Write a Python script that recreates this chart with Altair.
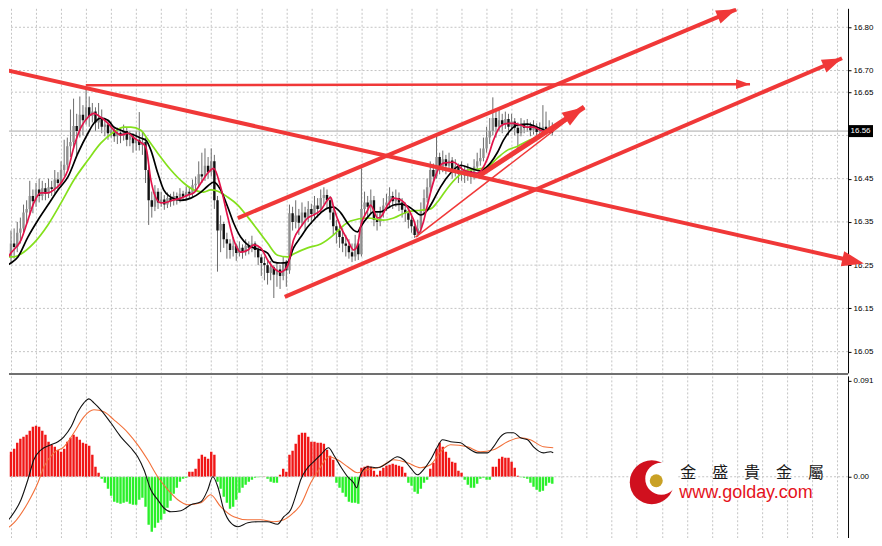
import altair as alt
import pandas as pd

# ---------------- price bars (one per bar index) ----------------
first_open = 16.255
close = [16.262,16.285,16.270,16.300,16.292,16.325,16.335,16.372,16.380,16.410,
         16.398,16.425,16.410,16.428,16.415,16.430,16.426,16.448,16.440,16.470,
         16.482,16.525,16.535,16.572,16.560,16.598,16.585,16.615,16.595,16.605,
         16.580,16.590,16.570,16.575,16.555,16.562,16.548,16.556,16.550,16.560,
         16.540,16.548,16.532,16.540,16.528,16.535,16.470,16.400,16.385,16.420,
         16.395,16.402,16.390,16.405,16.398,16.410,16.400,16.415,16.408,16.420,
         16.415,16.435,16.438,16.460,16.455,16.480,16.465,16.490,16.400,16.330,
         16.345,16.310,16.300,16.285,16.295,16.278,16.290,16.280,16.295,16.290,
         16.300,16.285,16.268,16.255,16.250,16.232,16.245,16.228,16.240,16.225,
         16.255,16.238,16.370,16.350,16.365,16.348,16.372,16.360,16.380,16.368,
         16.388,16.380,16.405,16.412,16.400,16.372,16.340,16.330,16.315,16.300,
         16.295,16.280,16.270,16.300,16.275,16.380,16.395,16.385,16.400,16.355,
         16.350,16.370,16.388,16.395,16.410,16.398,16.405,16.395,16.378,16.370,
         16.355,16.340,16.320,16.335,16.375,16.405,16.430,16.470,16.455,16.500,
         16.478,16.495,16.480,16.492,16.470,16.478,16.462,16.470,16.458,16.468,
         16.455,16.478,16.490,16.498,16.520,16.545,16.560,16.590,16.570,16.585,
         16.575,16.588,16.570,16.582,16.568,16.555,16.575,16.568,16.572,16.562,
         16.570,16.558,16.562,16.570,16.565,16.568,16.560]
high = [16.285,16.300,16.320,16.330,16.335,16.350,16.360,16.390,16.400,16.445,
        16.425,16.440,16.450,16.445,16.440,16.450,16.445,16.470,16.465,16.490,
        16.540,16.545,16.610,16.635,16.600,16.640,16.620,16.659,16.640,16.625,
        16.615,16.625,16.610,16.590,16.585,16.580,16.570,16.568,16.565,16.575,
        16.568,16.560,16.555,16.560,16.604,16.560,16.545,16.480,16.420,16.435,
        16.428,16.420,16.412,16.418,16.415,16.420,16.418,16.428,16.422,16.432,
        16.430,16.448,16.455,16.490,16.510,16.520,16.500,16.520,16.505,16.410,
        16.365,16.350,16.325,16.310,16.315,16.300,16.305,16.298,16.310,16.305,
        16.318,16.305,16.292,16.275,16.270,16.262,16.260,16.250,16.255,16.250,
        16.270,16.262,16.390,16.385,16.400,16.380,16.395,16.385,16.398,16.392,
        16.410,16.405,16.425,16.430,16.425,16.410,16.380,16.355,16.345,16.335,
        16.320,16.310,16.300,16.320,16.310,16.474,16.420,16.410,16.425,16.410,
        16.370,16.385,16.405,16.415,16.430,16.420,16.425,16.418,16.405,16.395,
        16.380,16.365,16.350,16.355,16.395,16.425,16.450,16.490,16.485,16.551,
        16.510,16.515,16.505,16.510,16.500,16.495,16.485,16.490,16.480,16.485,
        16.475,16.495,16.510,16.520,16.545,16.570,16.590,16.638,16.605,16.610,
        16.600,16.605,16.600,16.600,16.590,16.580,16.590,16.585,16.588,16.580,
        16.585,16.578,16.580,16.620,16.605,16.585,16.580]
low = [16.175,16.190,16.240,16.255,16.265,16.280,16.300,16.320,16.345,16.365,
       16.370,16.385,16.395,16.400,16.400,16.405,16.410,16.415,16.425,16.430,
       16.455,16.470,16.500,16.520,16.505,16.545,16.550,16.575,16.570,16.580,
       16.560,16.565,16.555,16.548,16.540,16.545,16.535,16.530,16.532,16.538,
       16.525,16.525,16.510,16.515,16.515,16.505,16.440,16.343,16.360,16.375,
       16.380,16.385,16.378,16.382,16.385,16.388,16.390,16.395,16.398,16.400,
       16.405,16.408,16.420,16.430,16.440,16.445,16.450,16.455,16.380,16.235,
       16.280,16.290,16.265,16.265,16.270,16.260,16.270,16.265,16.272,16.275,
       16.280,16.268,16.250,16.225,16.215,16.205,16.215,16.174,16.200,16.195,
       16.215,16.200,16.230,16.330,16.335,16.320,16.340,16.330,16.350,16.345,
       16.355,16.360,16.370,16.390,16.380,16.355,16.320,16.300,16.290,16.280,
       16.270,16.265,16.257,16.260,16.262,16.270,16.365,16.360,16.370,16.340,
       16.330,16.340,16.360,16.375,16.385,16.380,16.385,16.375,16.360,16.350,
       16.335,16.325,16.313,16.315,16.325,16.365,16.395,16.420,16.440,16.450,
       16.460,16.465,16.460,16.468,16.450,16.455,16.440,16.445,16.440,16.445,
       16.438,16.448,16.470,16.480,16.490,16.510,16.530,16.550,16.545,16.560,
       16.555,16.565,16.550,16.560,16.550,16.520,16.548,16.555,16.558,16.548,
       16.552,16.545,16.550,16.555,16.552,16.555,16.550]

# ---------------- moving averages ----------------
red_bar = [0,3.0,6.2,8.4,10.3,12.6,14.8,16.7,19.0,21.2,23.1,25.4,27.6,29.5,31.7,34.0,35.9,38.1,40.4,42.3,
           44.5,46.1,47.7,48.7,50.9,53.1,55.0,57.3,59.5,61.4,63.7,65.9,67.8,70.0,72.3,74.2,76.4,78.7,80.6,82.8,
           85.0,87.0,89.2,91.4,93.3,95.6,97.8,99.7,102.0,104.2,105.2,106.1,108.4,110.6,112.5,113.8,114.7,117.0,117.9,120.2,
           121.1,123.4,125.3,127.5,129.7,131.7,133.3,134.8,136.1,138.0,141.2,144.4,147.6,149.9,152.1,155.3,157.2,159.4,161.7,163.6,
           165.8,168.1,170.0,172.2,174.4,176.3]
red_val = [16.246,16.278,16.308,16.354,16.394,16.417,16.417,16.424,16.440,16.470,16.523,16.569,16.592,16.601,16.592,16.578,16.562,16.551,16.555,16.544,
           16.534,16.523,16.447,16.417,16.394,16.396,16.401,16.405,16.412,16.417,16.440,16.463,16.474,16.431,16.361,16.308,16.280,16.285,16.297,16.290,
           16.262,16.243,16.234,16.248,16.308,16.338,16.359,16.366,16.377,16.401,16.407,16.384,16.338,16.308,16.285,16.297,16.338,16.377,16.389,16.359,
           16.361,16.389,16.405,16.401,16.384,16.354,16.324,16.350,16.389,16.442,16.486,16.488,16.470,16.465,16.463,16.497,16.539,16.571,16.578,16.578,
           16.574,16.569,16.569,16.562,16.557,16.564]
black_bar = [0,3.0,5.2,8.4,11.6,14.8,18.0,21.2,24.4,27.6,29.5,31.7,34.0,35.9,38.1,40.4,42.3,44.5,46.1,47.7,
             49.9,51.8,54.1,57.3,60.5,63.7,65.9,67.8,70.0,72.3,74.2,76.4,78.7,80.6,82.8,85.0,87.0,89.2,91.4,93.3,
             95.6,97.8,99.7,102.0,104.2,106.1,108.4,110.6,112.5,113.8,114.7,117.0,118.9,121.1,123.4,125.3,127.5,129.7,131.7,133.9,
             136.1,138.0,140.3,143.5,146.7,149.9,153.0,156.2,158.5,160.4,162.6,164.9,168.1,171.2,174.4,176.3]
black_val = [16.244,16.255,16.269,16.315,16.354,16.389,16.424,16.454,16.509,16.555,16.578,16.590,16.585,16.569,16.562,16.555,16.551,16.544,16.539,16.516,
             16.463,16.424,16.407,16.400,16.405,16.419,16.433,16.442,16.424,16.384,16.347,16.315,16.297,16.290,16.285,16.278,16.257,16.255,16.257,16.290,
             16.315,16.338,16.354,16.371,16.382,16.384,16.371,16.347,16.331,16.327,16.338,16.361,16.373,16.373,16.382,16.389,16.391,16.387,16.377,16.366,
             16.377,16.400,16.431,16.463,16.481,16.474,16.468,16.486,16.511,16.539,16.562,16.574,16.576,16.569,16.560,16.558]
green_bar = [0,4.0,6.2,10.3,14.8,19.0,23.1,27.6,31.7,35.9,39.1,41.3,44.5,46.7,49.9,54.1,58.2,61.4,64.6,66.8,
             69.1,72.3,75.5,78.7,81.9,85.0,88.2,91.4,93.3,97.8,102.0,106.1,108.4,111.5,117.0,122.1,125.3,129.7,133.9,137.1,
             139.3,142.5,145.7,148.9,152.1,155.3,158.5,161.7,164.9,168.1,171.2,174.4,176.3]
green_val = [16.269,16.269,16.276,16.301,16.343,16.394,16.447,16.493,16.532,16.558,16.569,16.569,16.562,16.541,16.509,16.470,16.440,16.424,16.419,16.424,
             16.421,16.407,16.389,16.361,16.331,16.301,16.273,16.269,16.276,16.290,16.299,16.320,16.336,16.352,16.359,16.354,16.359,16.373,16.377,16.380,
             16.396,16.428,16.454,16.470,16.472,16.477,16.498,16.516,16.525,16.537,16.546,16.558,16.567]

# ---------------- MACD panel ----------------
hist = [0.0114,0.0180,0.0209,0.0237,0.0265,0.0322,0.0360,0.0379,0.0398,0.0436,
        0.0474,0.0483,0.0474,0.0436,0.0398,0.0332,0.0303,0.0284,0.0256,0.0237,
        0.0265,0.0332,0.0370,0.0398,0.0379,0.0351,0.0322,0.0313,0.0294,0.0209,
        0.0095,0.0038,-0.0019,-0.0057,-0.0114,-0.0180,-0.0237,-0.0246,-0.0256,-0.0246,
        -0.0237,-0.0256,-0.0265,-0.0265,-0.0218,-0.0199,-0.0284,-0.0455,-0.0521,-0.0483,
        -0.0436,-0.0408,-0.0351,-0.0294,-0.0228,-0.0161,-0.0104,-0.0047,-0.0019,-0.0009,
        0.0047,0.0047,0.0076,0.0171,0.0209,0.0190,0.0171,0.0237,0.0209,-0.0047,
        -0.0114,-0.0190,-0.0246,-0.0303,-0.0284,-0.0218,-0.0152,-0.0104,-0.0076,-0.0047,
        -0.0028,-0.0009,-0.0005,-0.0003,0.0003,-0.0019,-0.0047,-0.0057,-0.0057,0.0019,
        0.0076,0.0047,0.0209,0.0246,0.0313,0.0398,0.0417,0.0417,0.0379,0.0332,
        0.0332,0.0322,0.0322,0.0313,0.0256,0.0199,0.0161,-0.0057,-0.0104,-0.0152,
        -0.0190,-0.0237,-0.0246,-0.0246,-0.0256,0.0085,0.0095,0.0104,0.0095,0.0057,
        0.0019,0.0057,0.0085,0.0104,0.0114,0.0123,0.0114,0.0104,0.0095,0.0038,
        -0.0057,-0.0085,-0.0142,-0.0161,-0.0114,-0.0057,-0.0028,0.0076,0.0133,0.0265,
        0.0322,0.0284,0.0237,0.0180,0.0142,0.0133,0.0057,0.0038,-0.0028,-0.0076,
        -0.0104,-0.0104,-0.0066,-0.0019,-0.0009,-0.0028,-0.0028,0.0095,0.0095,0.0171,
        0.0190,0.0180,0.0180,0.0142,0.0085,0.0009,-0.0005,-0.0009,-0.0019,-0.0057,
        -0.0095,-0.0123,-0.0142,-0.0133,-0.0085,-0.0057,-0.0066]
dif_bar = [0,3.0,6.2,8.4,10.3,12.6,15.8,18.0,19.9,22.2,24.4,26.3,27.9,29.5,31.7,34.9,38.1,41.3,43.5,45.5,
           47.7,49.9,51.8,54.1,57.3,60.5,63.7,65.9,67.5,69.1,71.0,73.2,75.5,78.7,81.9,85.0,88.2,90.2,92.4,94.6,
           95.6,97.8,99.7,102.0,104.5,106.1,108.4,110.6,112.5,113.5,114.7,117.0,120.2,123.4,126.5,128.5,130.7,132.9,134.8,137.1,
           139.3,140.9,143.5,146.7,148.9,152.1,155.3,157.2,159.4,161.7,163.6,165.8,168.1,170.0,173.2,175.4,176.3]
dif_val = [-0.0474,-0.0379,-0.0218,-0.0028,0.0161,0.0256,0.0303,0.0332,0.0379,0.0474,
           0.0616,0.0701,0.0739,0.0701,0.0635,0.0512,0.0379,0.0275,0.0190,0.0066,
           -0.0123,-0.0218,-0.0294,-0.0332,-0.0322,-0.0265,-0.0237,-0.0123,0.0,-0.0095,
           -0.0313,-0.0436,-0.0474,-0.0436,-0.0427,-0.0427,-0.0450,-0.0379,-0.0313,-0.0123,
           -0.0028,0.0085,0.0142,0.0209,0.0275,0.0209,0.0095,0.0,-0.0057,-0.0104,
           0.0019,0.0095,0.0085,0.0133,0.0190,0.0161,0.0085,0.0019,0.0066,0.0161,
           0.0284,0.0351,0.0332,0.0322,0.0275,0.0227,0.0227,0.0284,0.0379,0.0417,
           0.0417,0.0370,0.0351,0.0284,0.0227,0.0237,0.0227]
sig_bar = [0,4.0,8.4,11.6,13.5,16.7,19.9,23.1,26.3,29.5,32.7,35.9,40.4,43.5,46.7,49.9,53.1,56.3,59.5,63.7,
           66.8,70.0,74.2,78.7,82.8,87.0,90.2,93.3,95.6,98.8,102.0,104.5,107.4,110.6,113.8,117.0,121.1,125.3,129.7,133.9,
           137.1,140.3,143.5,148.9,153.0,157.2,161.7,165.8,169.0,173.2,176.3]
sig_val = [-0.0521,-0.0436,-0.0246,-0.0057,0.0095,0.0227,0.0284,0.0417,0.0569,0.0635,
           0.0616,0.0540,0.0417,0.0303,0.0161,0.0,-0.0123,-0.0218,-0.0265,-0.0246,
           -0.0171,-0.0284,-0.0379,-0.0408,-0.0408,-0.0427,-0.0408,-0.0341,-0.0265,-0.0057,
           0.0095,0.0190,0.0161,0.0095,0.0038,0.0066,0.0095,0.0161,0.0133,0.0085,
           0.0114,0.0237,0.0303,0.0284,0.0237,0.0256,0.0332,0.0370,0.0351,0.0284,0.0275]

# ---------------- hand-drawn trend lines (bar index, price) ----------------
arrow_x0 = [0.0, 26.9, 75.5, 90.5, 152.4, 132.3]
arrow_y0 = [16.7035, 16.6661, 16.3589, 16.1765, 16.4559, 16.3150]
arrow_x1 = [275.6, 239.2, 234.8, 268.6, 186.2, 186.2]
arrow_y1 = [16.2539, 16.6684, 16.8416, 16.7284, 16.6153, 16.6153]
arrow_w = [4, 2.5, 4, 4, 5, 1.5]
head_idx = [0, 1, 2, 3, 4]
head_angle = [12.7, 359.9, 337.3, 336.7, 326.9]
head_size = [484, 196, 400, 400, 484]

price_ticks = [16.80, 16.70, 16.65, 16.45, 16.35, 16.25, 16.15, 16.05]   # 16.55 lies under the bid box
price_grid = [16.80, 16.70, 16.65, 16.55, 16.45, 16.35, 16.25, 16.15, 16.05]
macd_ticks = [0.091, 0.0]
bid = 16.56
grid_bars = list(range(3, 272, 8))

brand_cn = "金　盛　貴　金　屬"
brand_url = "www.golday.com"

# ---------------- layout ----------------
W, H_TOP, H_BOT = 840, 365, 162
X_DOMAIN = [2.364, 270.52]
P_DOMAIN = [16.0009, 16.8439]
M_DOMAIN = [-0.0578, 0.0957]
ARROW = "#f03838"
LBL_FONT = "Liberation Sans"
GRID = "#c4c4c4"

n = len(close)
candles = pd.DataFrame({
    "bar": list(range(n)),
    "open": [first_open] + close[:-1],
    "close": close, "high": high, "low": low,
})
xs = alt.Scale(domain=X_DOMAIN, nice=False, zero=False)
ys = alt.Scale(domain=P_DOMAIN, nice=False, zero=False)
ms = alt.Scale(domain=M_DOMAIN, nice=False, zero=False)

x_axis = alt.Axis(values=grid_bars, grid=True, gridDash=[2, 2], gridColor=GRID,
                  gridWidth=1, labels=False, ticks=False, domain=False, title=None)
y_axis = alt.Axis(orient="right", values=price_ticks, format=".2f", grid=False, title=None, tickSize=3,
                  tickColor="black", domainColor="black", labelColor="black",
                  labelFont=LBL_FONT, labelFontSize=8, labelPadding=2)
m_axis = alt.Axis(orient="right", values=macd_ticks, grid=False, title=None, tickSize=3,
                  labelExpr="datum.value == 0 ? '0.00' : format(datum.value, '.3f')",
                  tickColor="black", domainColor="black", labelColor="black",
                  labelFont=LBL_FONT, labelFontSize=8, labelPadding=2)

def PX(field):
    return alt.X(field, scale=xs, axis=x_axis)

def PY(field):
    return alt.Y(field, scale=ys, axis=y_axis)

def MY(field):
    return alt.Y(field, scale=ms, axis=m_axis)

hgrid = alt.Chart(pd.DataFrame({"g": price_grid})).mark_rule(
    color=GRID, strokeDash=[2, 2], strokeWidth=1).encode(y=PY("g:Q"))
wicks = alt.Chart(candles).mark_rule(color="#6b6b6b", strokeWidth=1, clip=True).encode(
    x=PX("bar:Q"), y=PY("low:Q"), y2="high:Q")
bodies = alt.Chart(candles).mark_rule(strokeWidth=2.4, clip=True).encode(
    x=PX("bar:Q"), y=PY("open:Q"), y2="close:Q",
    color=alt.condition("datum.close >= datum.open", alt.value("#8f8f8f"), alt.value("#111111")),
)
bid_df = pd.DataFrame({"bid": [bid], "label": [f"{bid:.2f}"]})
bid_line = alt.Chart(bid_df).mark_rule(color="#a9a9a9", strokeWidth=1).encode(y=PY("bid:Q"))

def ma_line(bars, vals, color):
    df = pd.DataFrame({"bar": bars, "v": vals})
    return alt.Chart(df).mark_line(color=color, strokeWidth=1.7, interpolate="monotone", clip=True).encode(
        x=PX("bar:Q"), y=PY("v:Q"))

ma_green = ma_line(green_bar, green_val, "#84e01c")
ma_black = ma_line(black_bar, black_val, "#000000")
ma_red = ma_line(red_bar, red_val, "#e2134a")

arrows_df = pd.DataFrame({"x0": arrow_x0, "y0": arrow_y0, "x1": arrow_x1, "y1": arrow_y1, "w": arrow_w})
arrow_lines = alt.Chart(arrows_df).mark_rule(color=ARROW, clip=True).encode(
    x=PX("x0:Q"), y=PY("y0:Q"), x2="x1:Q", y2="y1:Q",
    strokeWidth=alt.StrokeWidth("w:Q", scale=None))
heads_df = pd.DataFrame({"x": [arrow_x1[i] for i in head_idx], "y": [arrow_y1[i] for i in head_idx],
                         "ang": head_angle, "sz": head_size})
arrow_heads = alt.Chart(heads_df).mark_point(
    shape="M0,0L-2,-0.7L-2,0.7Z", filled=True, color=ARROW, opacity=1, strokeWidth=0, clip=False
).encode(x=PX("x:Q"), y=PY("y:Q"),
         angle=alt.Angle("ang:Q", scale=None), size=alt.Size("sz:Q", scale=None))

bid_box = alt.Chart(bid_df).mark_point(
    shape="M-1.25,-0.6L1.25,-0.6L1.25,0.6L-1.25,0.6Z", filled=True, color="black",
    opacity=1, size=400, strokeWidth=0, clip=False
).encode(x=alt.value(W + 12.5), y=PY("bid:Q"))
bid_text = alt.Chart(bid_df).mark_text(color="white", font=LBL_FONT, fontSize=8, align="center",
                                       baseline="middle").encode(
    x=alt.value(W + 12.5), y=PY("bid:Q"), text="label:N")

sep = alt.Chart(bid_df).mark_rule(color="#707070", strokeWidth=2).encode(y=alt.value(H_TOP + 1))

top = alt.layer(hgrid, wicks, bid_line, bodies, ma_green, ma_black, ma_red, arrow_lines, arrow_heads,
                bid_box, bid_text, sep).properties(width=W, height=H_TOP)

# ---------------- bottom panel ----------------
hist_df = pd.DataFrame({"bar": list(range(len(hist))), "h": hist, "zero": [0.0] * len(hist)})
hist_bars = alt.Chart(hist_df).mark_rule(strokeWidth=2.4, clip=True).encode(
    x=PX("bar:Q"), y=MY("h:Q"), y2="zero:Q",
    color=alt.condition("datum.h >= 0", alt.value("#f01616"), alt.value("#2af02a")),
)
zero_line = alt.Chart(pd.DataFrame({"z": [0.0]})).mark_rule(
    color=GRID, strokeDash=[2, 2], strokeWidth=1).encode(y=MY("z:Q"))
dif_line = alt.Chart(pd.DataFrame({"bar": dif_bar, "v": dif_val})).mark_line(
    color="#111111", strokeWidth=1.1, interpolate="monotone", clip=True).encode(x=PX("bar:Q"), y=MY("v:Q"))
sig_line = alt.Chart(pd.DataFrame({"bar": sig_bar, "v": sig_val})).mark_line(
    color="#f2703a", strokeWidth=1.1, interpolate="monotone", clip=True).encode(x=PX("bar:Q"), y=MY("v:Q"))

one = pd.DataFrame({"k": [0]})
logo_red = alt.Chart(one).mark_point(shape="circle", filled=True, color="#d0101e", opacity=1,
                                     size=1936, strokeWidth=0).encode(x=alt.value(643.5), y=alt.value(106.5))
logo_white = alt.Chart(one).mark_point(shape="circle", filled=True, color="white", opacity=1,
                                       size=1024, strokeWidth=0).encode(x=alt.value(653), y=alt.value(103))
logo_gold = alt.Chart(one).mark_point(shape="circle", filled=True, color="#c9a125", opacity=1,
                                      size=169, strokeWidth=0).encode(x=alt.value(648), y=alt.value(105))
brand1 = alt.Chart(one).mark_text(text=brand_cn, font="Noto Sans CJK TC", fontSize=16, color="#1a1a1a",
                                  align="left", baseline="middle").encode(x=alt.value(672), y=alt.value(97))
brand2 = alt.Chart(one).mark_text(text=brand_url, font="Liberation Sans", fontSize=18, color="#e5121c",
                                  align="left", baseline="middle").encode(x=alt.value(671), y=alt.value(117))

bottom = alt.layer(hist_bars, zero_line, sig_line, dif_line, logo_red, logo_white, logo_gold,
                   brand1, brand2).properties(width=W, height=H_BOT)

chart = alt.vconcat(top, bottom, spacing=3, bounds="flush").properties(
    padding=0, background="white"
).configure_view(strokeWidth=0)

chart.save("out.html", embed_options={"renderer": "svg", "actions": False})
